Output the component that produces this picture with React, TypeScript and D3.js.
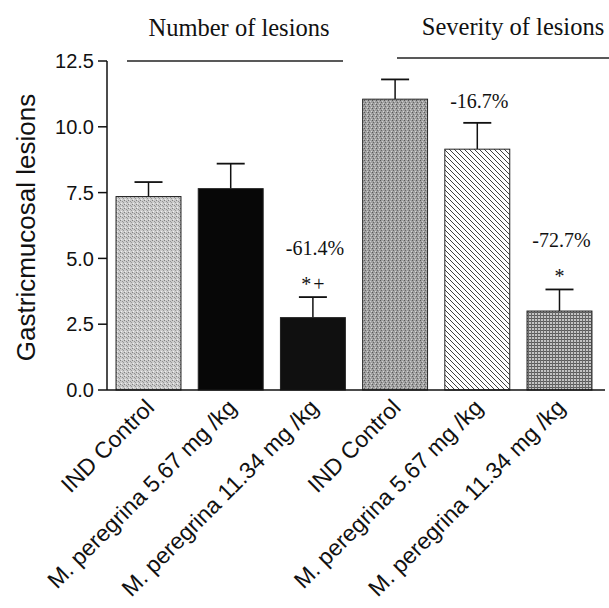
import React from "react";
import * as d3 from "d3";

const groups = ["Number of lesions", "Severity of lesions"];
const treatments = ["IND Control", "M. peregrina 5.67 mg /kg", "M. peregrina 11.34 mg /kg"];
const numberMeans = [7.35, 7.65, 2.75];
const numberErrors = [0.55, 0.95, 0.78];
const severityMeans = [11.05, 9.15, 3.0];
const severityErrors = [0.75, 1.0, 0.82];
const changeLabels = ["", "", "-61.4%", "", "-16.7%", "-72.7%"];
const signifLabels = ["", "", "*+", "", "", "*"];
const yTicks = [0, 2.5, 5, 7.5, 10, 12.5];

const fills = ["url(#lightDots)", "#070707", "#101010", "url(#midDots)", "url(#hatch)", "url(#grid)"];

const width = 609;
const height = 608;
const left = 107;
const bottom = 390;
const top = 61;

const bars = groups.flatMap((g, gi) =>
  treatments.map((t, ti) => ({
    key: `${gi}-${ti}`,
    label: t,
    mean: gi === 0 ? numberMeans[ti] : severityMeans[ti],
    err: gi === 0 ? numberErrors[ti] : severityErrors[ti],
  }))
);

const App = () => {
  const x = d3
    .scaleBand()
    .domain(bars.map((d) => d.key))
    .range([left, 601])
    .paddingInner(0.21)
    .paddingOuter(0.11);

  const y = d3.scaleLinear().domain([0, 12.5]).range([bottom, top]);

  const serif = "'Liberation Serif', 'Times New Roman', serif";
  const sans = "'Liberation Sans', Arial, sans-serif";

  return (
    <svg
      width={width}
      height={height}
      style={{ position: "absolute", left: 0, top: 0, background: "#fff" }}
    >
      <defs>
        <pattern id="lightDots" width="4" height="4" patternUnits="userSpaceOnUse">
          <rect width="4" height="4" fill="#cbcbcb" />
          <rect x="0" y="0" width="1" height="1" fill="#808080" />
          <rect x="2" y="1" width="1" height="1" fill="#909090" />
          <rect x="1" y="3" width="1" height="1" fill="#eeeeee" />
          <rect x="3" y="2" width="1" height="1" fill="#989898" />
        </pattern>
        <pattern id="midDots" width="4" height="4" patternUnits="userSpaceOnUse">
          <rect width="4" height="4" fill="#a0a0a0" />
          <rect x="0" y="0" width="1" height="1" fill="#585858" />
          <rect x="2" y="1" width="1" height="1" fill="#cbcbcb" />
          <rect x="1" y="2" width="1" height="1" fill="#666" />
          <rect x="3" y="3" width="1" height="1" fill="#d4d4d4" />
        </pattern>
        <pattern id="hatch" width="5" height="5" patternUnits="userSpaceOnUse">
          <rect width="5" height="5" fill="#fff" />
          <path d="M0,0 L5,5 M-1,4 L1,6 M4,-1 L6,1" stroke="#2a2a2a" strokeWidth="0.9" />
        </pattern>
        <pattern id="grid" width="3" height="3" patternUnits="userSpaceOnUse">
          <rect width="3" height="3" fill="#c4c4c4" />
          <rect x="0" y="0" width="3" height="1" fill="#5a5a5a" />
          <rect x="0" y="0" width="1" height="3" fill="#6a6a6a" />
        </pattern>
      </defs>

      {/* group titles */}
      <text x={239} y={36} textAnchor="middle" fontFamily={serif} fontSize={24.5} fill="#111">
        {groups[0]}
      </text>
      <line x1={127} x2={343} y1={61} y2={61} stroke="#222" strokeWidth={1.5} />
      <text x={513} y={35} textAnchor="middle" fontFamily={serif} fontSize={24.5} fill="#111">
        {groups[1]}
      </text>
      <line x1={397} x2={609} y1={58} y2={58} stroke="#222" strokeWidth={1.5} />

      {/* bars */}
      {bars.map((d, i) => {
        const bx = x(d.key)!;
        const cx = bx + x.bandwidth() / 2;
        const capY = y(d.mean + d.err);
        const sig = signifLabels[i];
        const pct = changeLabels[i];
        return (
          <g key={d.key}>
            <line x1={cx} x2={cx} y1={y(d.mean)} y2={capY} stroke="#111" strokeWidth={1.5} />
            <line x1={cx - 14} x2={cx + 14} y1={capY} y2={capY} stroke="#111" strokeWidth={1.8} />
            <rect
              x={bx}
              y={y(d.mean)}
              width={x.bandwidth()}
              height={bottom - y(d.mean)}
              fill={fills[i]}
              stroke="#222"
              strokeWidth={1}
            />
            {sig && (
              <text x={cx + 1} y={capY - 6} textAnchor="middle" fontFamily={serif} fontSize={20} letterSpacing={2} fill="#111">
                {sig}
              </text>
            )}
            {pct && (
              <text
                x={cx + 2}
                y={capY - (sig ? 42 : 15)}
                textAnchor="middle"
                fontFamily={serif}
                fontSize={20}
                fill="#111"
              >
                {pct}
              </text>
            )}
            <text
              transform={`translate(${cx + 7},${bottom + 19}) rotate(-45)`}
              textAnchor="end"
              fontFamily={sans}
              fontSize={23}
              fill="#111"
            >
              {d.label}
            </text>
          </g>
        );
      })}

      {/* axes */}
      <line x1={left} x2={left} y1={top} y2={bottom} stroke="#111" strokeWidth={1.5} />
      <line x1={left} x2={605} y1={bottom} y2={bottom} stroke="#111" strokeWidth={1.5} />
      {yTicks.map((t) => (
        <g key={t}>
          <line x1={left - 9} x2={left} y1={y(t)} y2={y(t)} stroke="#111" strokeWidth={1.5} />
          <text
            x={left - 13}
            y={y(t)}
            dy="0.36em"
            textAnchor="end"
            fontFamily={sans}
            fontSize={20}
            fill="#111"
          >
            {t.toFixed(1)}
          </text>
        </g>
      ))}
      <text
        transform={`translate(35,${(top + bottom) / 2 + 2}) rotate(-90)`}
        textAnchor="middle"
        fontFamily={sans}
        fontSize={26}
        fill="#111"
      >
        Gastricmucosal lesions
      </text>
    </svg>
  );
};

export default App;
